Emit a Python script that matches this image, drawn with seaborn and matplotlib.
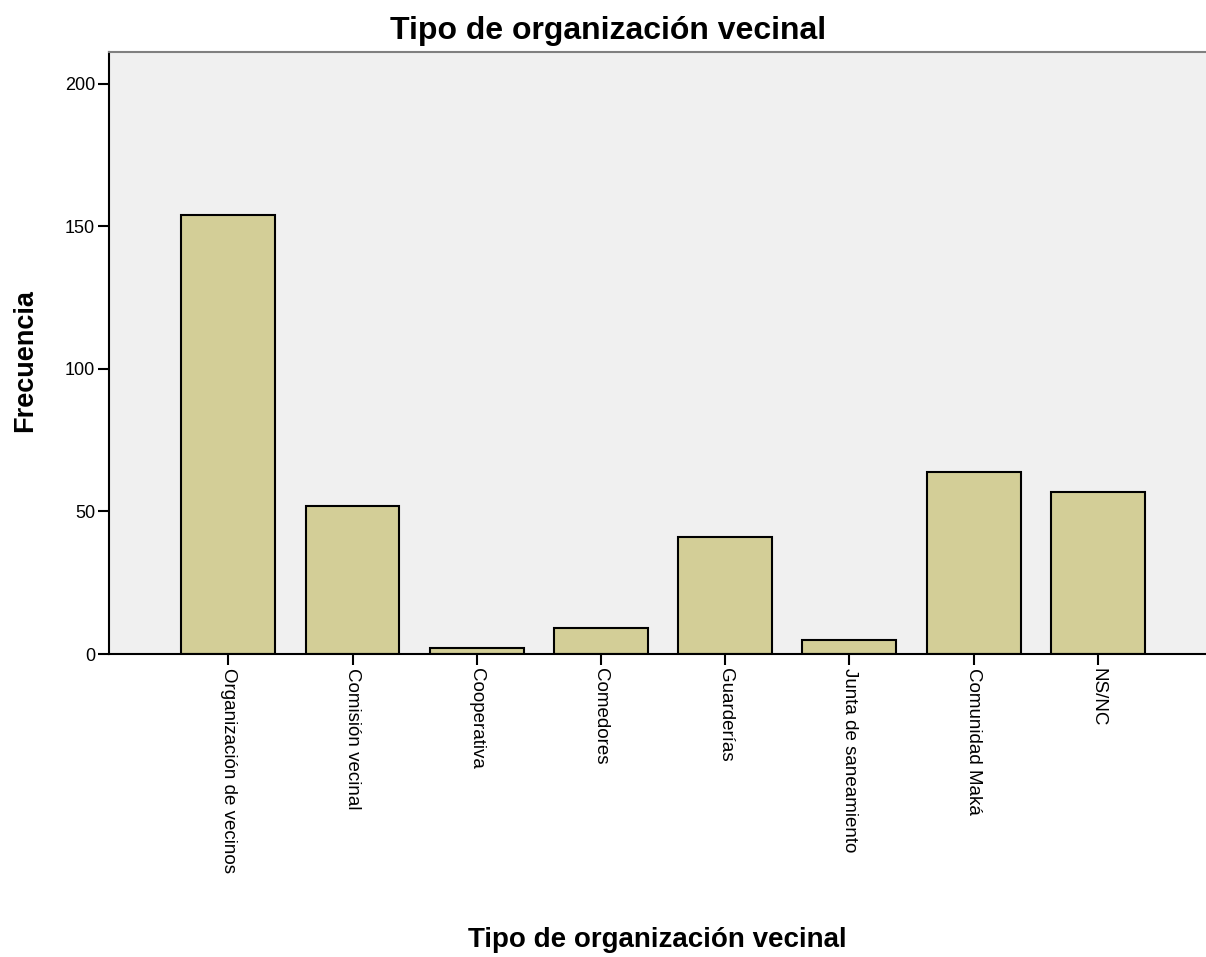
#!/usr/bin/env python
"""
Frequency bar chart: Tipo de organización vecinal.
"""
import matplotlib

matplotlib.use("Agg")
import matplotlib.pyplot as plt
import pandas as pd
import seaborn as sns

categories = [
    "Organización de vecinos",
    "Comisión vecinal",
    "Cooperativa",
    "Comedores",
    "Guarderías",
    "Junta de saneamiento",
    "Comunidad Maká",
    "NS/NC",
]
counts = [154, 52, 2, 9, 41, 5, 64, 57]
y_ticks = [0, 50, 100, 150, 200]


def plot_organizacion_vecinal():
    sns.set_style("white")
    plt.rcParams["font.family"] = ["Liberation Sans", "DejaVu Sans"]
    plt.rcParams["text.color"] = "black"
    plt.rcParams["axes.labelcolor"] = "black"
    plt.rcParams["xtick.color"] = "black"
    plt.rcParams["ytick.color"] = "black"

    data = pd.DataFrame({"tipo": categories, "frecuencia": counts})

    fig = plt.figure(figsize=(12.06, 9.57), dpi=100)
    ax = fig.add_axes([0.0904, 0.3166, 0.9096, 0.6291])
    ax.set_facecolor("#F0F0F0")

    sns.barplot(
        data=data,
        x="tipo",
        y="frecuencia",
        color="#D3CE97",
        saturation=1,
        width=0.756,
        edgecolor="black",
        linewidth=1.5,
        ax=ax,
    )

    ax.set_xlim(-0.96, 7.87)
    ax.set_ylim(0, 211.2)
    ax.set_yticks(y_ticks)
    ax.set_yticklabels([str(t) for t in y_ticks], fontsize=13)
    ax.set_xticks(range(len(categories)))
    ax.set_xticklabels(categories, rotation=270, fontsize=13.5, va="top", ha="center")
    ax.tick_params(axis="both", direction="out", length=8, width=1.5, color="black", pad=2)
    ax.tick_params(axis="x", bottom=True)
    ax.tick_params(axis="y", left=True)

    for side in ["left", "bottom"]:
        ax.spines[side].set_color("black")
        ax.spines[side].set_linewidth(1.5)
    ax.spines["top"].set_color("#808080")
    ax.spines["top"].set_linewidth(1.5)
    ax.spines["right"].set_visible(False)

    ax.set_xlabel("Tipo de organización vecinal", fontsize=20, fontweight="bold", va="center")
    ax.xaxis.set_label_coords(0.5, -0.475)
    ax.set_ylabel("Frecuencia", fontsize=19.5, fontweight="bold", va="center")
    ax.yaxis.set_label_coords(-0.0766, 0.488)
    fig.text(0.504, 0.968, "Tipo de organización vecinal", fontsize=23,
             fontweight="bold", ha="center", va="center")

    fig.savefig("out.png", dpi=100)


plot_organizacion_vecinal()
